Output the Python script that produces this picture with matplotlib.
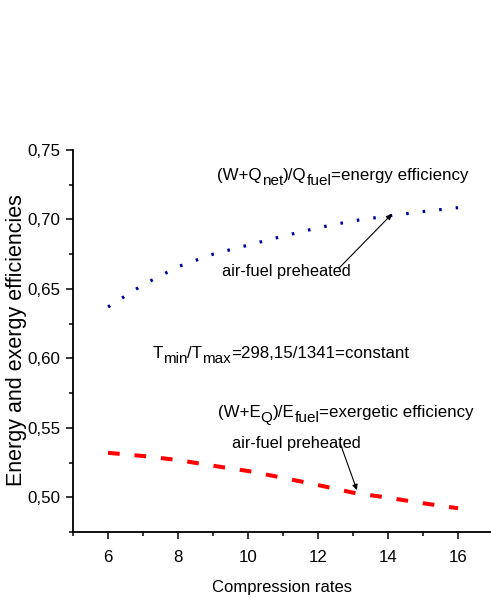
import numpy as np
import matplotlib.pyplot as plt
from matplotlib.ticker import MultipleLocator

# data
rates = [6, 7, 8, 9, 10, 11, 12, 13, 14, 15, 16]
energy_eff = [0.637, 0.653, 0.666, 0.675, 0.6815, 0.688, 0.694, 0.699, 0.7025, 0.7057, 0.7085]
exergy_eff = [0.532, 0.5297, 0.5268, 0.5227, 0.5189, 0.514, 0.5088, 0.5033, 0.4997, 0.4957, 0.4921]

plt.rcParams['font.family'] = ['Liberation Sans', 'DejaVu Sans']


def rich_text(ax, x, y, parts, size, sub_shift=3.5):
    """Draw text pieces one after another; (text, True) is a subscript."""
    art = None
    prev_sub = False
    for s, sub in parts:
        fs = size * 0.9 if sub else size
        if art is None:
            art = ax.text(x, y, s, fontsize=fs, va='baseline')
        else:
            dy = 0
            if sub and not prev_sub:
                dy = -sub_shift
            elif prev_sub and not sub:
                dy = sub_shift
            art = ax.annotate(s, xy=(1, 0), xycoords=art, xytext=(0, dy),
                              textcoords='offset points', fontsize=fs, va='bottom')
        prev_sub = sub
    return art


fig = plt.figure(figsize=(4.91, 5.98), dpi=100)
ax = fig.add_axes([73 / 491, 1 - 532 / 598, 418 / 491, 382 / 598])

ax.plot(rates, energy_eff, color='#00009c', lw=2.3, linestyle=(0, (0.8, 4.4)))
ax.plot(rates, exergy_eff, color='red', lw=2.9, linestyle=(0, (2.9, 3.7)))

ax.set_xlim(5, 16.94)
ax.set_ylim(0.475, 0.75)
ax.xaxis.set_major_locator(MultipleLocator(2))
ax.xaxis.set_minor_locator(MultipleLocator(1))
ax.yaxis.set_major_locator(MultipleLocator(0.05))
ax.yaxis.set_minor_locator(MultipleLocator(0.025))
ax.yaxis.set_major_formatter(plt.FuncFormatter(lambda v, p: f'{v:.2f}'.replace('.', ',')))

for s in ['top', 'right']:
    ax.spines[s].set_visible(False)
for s in ['left', 'bottom']:
    ax.spines[s].set_linewidth(1.3)
ax.tick_params(which='major', direction='out', length=5, width=1.1, labelsize=12.2)
ax.tick_params(which='minor', direction='out', length=3, width=1.1)
ax.tick_params(axis='x', which='major', pad=8)
ax.tick_params(axis='y', which='major', pad=4)

ax.set_xlabel('Compression rates', fontsize=12, labelpad=11)
ax.set_ylabel('Energy and exergy efficiencies', fontsize=15.5)
ax.yaxis.set_label_coords(-0.11, 0.503)

rich_text(ax, 9.12, 0.7284, [('(W+Q', False), ('net', True), (')/Q', False),
                             ('fuel', True), ('=energy efficiency', False)], 12.2)
ax.text(9.26, 0.6593, 'air-fuel preheated', fontsize=11.8)
ax.annotate('', xy=(14.11, 0.7039), xytext=(12.6, 0.665),
            arrowprops=dict(arrowstyle='-|>', color='black', lw=0.8,
                            mutation_scale=8, shrinkA=0, shrinkB=0))
rich_text(ax, 7.27, 0.6003, [('T', False), ('min', True), ('/T', False),
                             ('max', True), ('=298,15/1341=constant', False)], 12.2)
rich_text(ax, 9.14, 0.5576, [('(W+E', False), ('Q', True), (')/E', False),
                             ('fuel', True), ('=exergetic efficiency', False)], 12.2)
ax.text(9.53, 0.5355, 'air-fuel preheated', fontsize=11.8)
ax.annotate('', xy=(13.11, 0.5052), xytext=(12.63, 0.539),
            arrowprops=dict(arrowstyle='-|>', color='black', lw=0.8,
                            mutation_scale=8, shrinkA=0, shrinkB=0))

plt.savefig('out.png', dpi=100)
